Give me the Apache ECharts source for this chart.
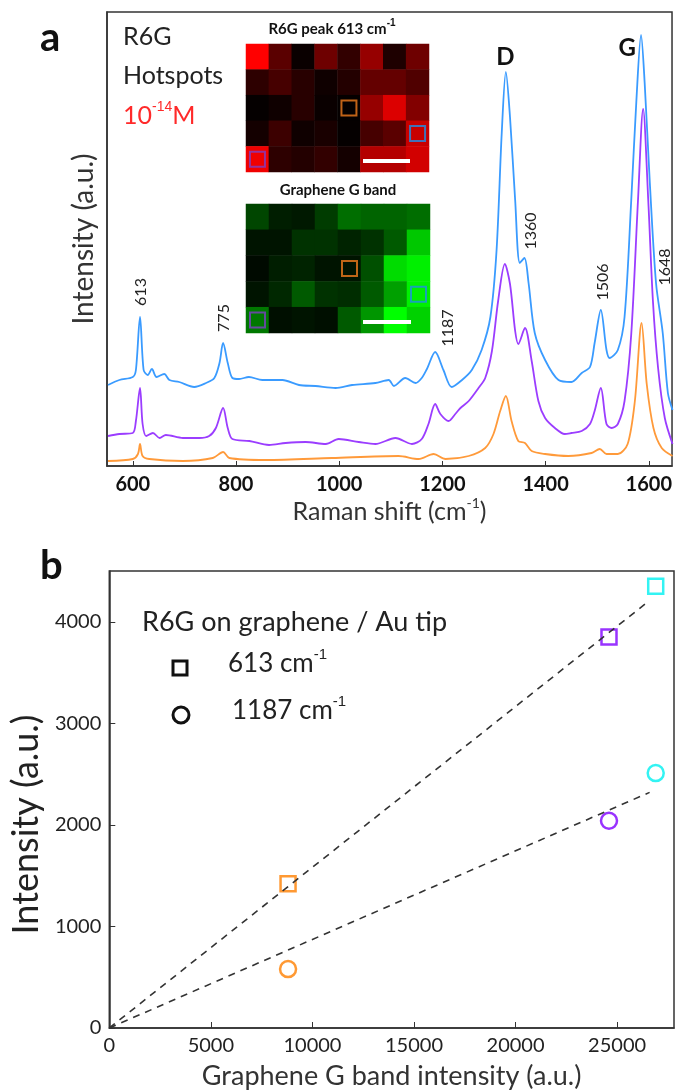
<!DOCTYPE html>
<html lang="en">
  <head>
    <meta charset="UTF-8" />
    <title>R6G TERS hotspots</title>
    <script src="https://cdn.jsdelivr.net/npm/echarts@6.0.0/dist/echarts.min.js"></script>
    <style>
      body {
        margin: 0;
        padding: 0;
        background: #fff;
      }
      #chart {
        width: 675px;
        height: 1092px;
      }
    </style>
  </head>
  <body>
    <div id="chart"></div>

    <script>
      // panel a: spectra [Raman shift, intensity (a.u., offset)]
      var specBlue = [[552,81],[574,86],[600,89],[606,96],[614,149],[621,96],[629,91],[637,97],[646,89],[661,92],[671,86],[690,84],[719,79],[742,83],[758,88],[768,103],[775,123],[784,103],[793,88],[806,87],[825,89],[851,86],[890,86],[922,81],[954,80],[993,78],[1025,81],[1070,83],[1096,86],[1106,80],[1128,88],[1148,83],[1160,88],[1170,97],[1186,114],[1202,96],[1218,79],[1238,86],[1257,96],[1276,116],[1293,149],[1305,216],[1315,333],[1323,394],[1331,349],[1341,266],[1350,203],[1359,208],[1367,183],[1379,133],[1399,106],[1425,86],[1450,84],[1470,93],[1486,99],[1495,123],[1507,156],[1518,116],[1524,108],[1540,116],[1553,149],[1566,266],[1576,366],[1585,431],[1592,383],[1602,283],[1614,183],[1627,133],[1637,73],[1646,56]];
      var specPurple = [[552,30],[574,32],[600,33],[606,45],[614,78],[619,42],[626,30],[639,33],[652,28],[664,31],[697,28],[729,28],[748,30],[761,38],[775,58],[784,38],[793,27],[826,25],[864,21],[896,23],[935,24],[974,22],[999,27],[1038,24],[1070,22],[1109,28],[1141,22],[1160,27],[1173,42],[1186,62],[1196,52],[1212,45],[1225,52],[1235,58],[1251,65],[1270,78],[1283,88],[1296,115],[1308,165],[1321,202],[1331,182],[1341,135],[1347,122],[1360,138],[1373,105],[1386,65],[1399,48],[1418,38],[1437,32],[1450,33],[1470,35],[1486,42],[1495,55],[1507,78],[1518,42],[1528,38],[1540,42],[1553,65],[1566,132],[1579,265],[1589,357],[1599,265],[1608,165],[1618,98],[1631,48],[1646,22]];
      var specOrange = [[552,5],[600,7],[610,12],[614,22],[619,10],[632,7],[697,5],[755,8],[775,14],[787,8],[858,6],[986,8],[1115,10],[1154,7],[1183,12],[1206,7],[1251,10],[1283,18],[1299,32],[1312,55],[1323,70],[1334,45],[1347,25],[1360,23],[1373,15],[1399,12],[1444,10],[1489,13],[1505,17],[1518,12],[1540,12],[1559,22],[1573,65],[1586,143],[1596,82],[1609,38],[1625,18],[1646,10]];
      var ramanTicks = [600, 800, 1000, 1200, 1400, 1600];
      // peak annotations [x, y, text]
      var peakLabels = [[615,174,'613'],[777,148,'775'],[1210,138,'1187'],[1372,235,'1360'],[1511,184,'1506'],[1631,199,'1648']];
      var bandLabels = [[1322,409,'D'],[1558,418,'G']];

      // inset maps, 8 x 5 pixels, rows top to bottom (0-255)
      var r6gMap = [
        [255, 90, 10, 110, 50, 150, 30, 110],
        [45, 70, 40, 15, 35, 100, 100, 80],
        [5, 15, 40, 10, 5, 150, 220, 130],
        [20, 60, 15, 25, 5, 70, 90, 200],
        [240, 45, 35, 50, 20, 180, 180, 210]
      ];
      var gMap = [
        [70, 30, 25, 60, 110, 100, 100, 110],
        [20, 20, 50, 50, 35, 50, 90, 200],
        [10, 30, 35, 20, 20, 80, 220, 240],
        [20, 40, 90, 50, 45, 90, 160, 240],
        [120, 15, 20, 15, 90, 150, 255, 210]
      ];
      var spotPixels = [[4, 2], [7, 3], [0, 4]];
      var spotColors = ['#ef7a1d', '#1f8fe6', '#7d3fc4'];

      // panel b
      var gBand = [8800, 24600, 26900];
      var peak613 = [1420, 3850, 4350];
      var peak1187 = [580, 2040, 2510];
      var pointColors = ['#ff8000', '#8000ff', '#00f0f0'];
      var fitX = [0, 26600];
      var fit613 = [0, 4210];
      var fit1187 = [0, 2320];
      var gTicks = [0, 5000, 10000, 15000, 20000, 25000];
      var iTicks = [0, 1000, 2000, 3000, 4000];

      var FONT = 'Lato, "Open Sans", sans-serif';
      function supStyle(size, lift) {
        return { fontSize: size, verticalAlign: 'top', padding: [0, 0, lift, 0] };
      }
      function plain(v) { return String(v); }

      function toHeat(m) {
        var out = [];
        m.forEach(function (row, r) {
          row.forEach(function (v, c) { out.push([c, r, v]); });
        });
        return out;
      }
      function spots() {
        return spotPixels.map(function (p, i) {
          return { value: p, itemStyle: { borderColor: spotColors[i] } };
        });
      }
      function pts(ys) {
        return gBand.map(function (x, i) {
          return { value: [x, ys[i]], itemStyle: { borderColor: pointColors[i] } };
        });
      }
      function pair(xs, ys) {
        return xs.map(function (x, i) { return [x, ys[i]]; });
      }

      var chart = echarts.init(document.getElementById('chart'));
      var cols = [0, 1, 2, 3, 4, 5, 6, 7];
      var rows = [0, 1, 2, 3, 4];

      var option = {
        animation: false,
        textStyle: { fontFamily: FONT },
        grid: [
          { left: 107, top: 12, width: 566, height: 454, show: true, borderColor: '#333', borderWidth: 1.5 },
          { left: 246, top: 44, width: 183, height: 128, z: 5 },
          { left: 246, top: 204, width: 184, height: 129, z: 5 },
          { left: 108, top: 571, width: 566, height: 457, show: true, borderColor: '#333', borderWidth: 1.5 }
        ],
        xAxis: [
          {
            gridIndex: 0, type: 'value', min: 550, max: 1645,
            splitLine: { show: false },
            axisLine: { lineStyle: { color: '#333', width: 1.5 } },
            axisTick: { inside: true, length: 5, customValues: ramanTicks, lineStyle: { color: '#333' } },
            axisLabel: { customValues: ramanTicks, formatter: plain, color: '#111', fontWeight: 'bold', fontSize: 20, margin: 9 },
            name: 'Raman shift (cm{sup|-1})',
            nameLocation: 'middle', nameGap: 30,
            nameTextStyle: { fontSize: 25, color: '#333', rich: { sup: supStyle(14, 18) } }
          },
          { gridIndex: 1, type: 'category', data: cols, show: false },
          { gridIndex: 2, type: 'category', data: cols, show: false },
          {
            gridIndex: 3, type: 'value', min: 0, max: 27800,
            splitLine: { show: false },
            axisLine: { lineStyle: { color: '#333', width: 1.5 } },
            axisTick: { inside: true, length: 6, customValues: gTicks, lineStyle: { color: '#333' } },
            axisLabel: { customValues: gTicks, formatter: plain, color: '#222', fontSize: 20, margin: 8 },
            name: 'Graphene G band intensity (a.u.)',
            nameLocation: 'middle', nameGap: 35,
            nameTextStyle: { fontSize: 27, color: '#333' }
          }
        ],
        yAxis: [
          {
            gridIndex: 0, type: 'value', min: 0, max: 454,
            splitLine: { show: false },
            axisLine: { show: true, lineStyle: { color: '#333', width: 1.5 } },
            axisTick: { show: false },
            axisLabel: { show: false },
            name: 'Intensity (a.u.)',
            nameLocation: 'middle', nameGap: 9,
            nameTextStyle: { fontSize: 28, color: '#333' }
          },
          { gridIndex: 1, type: 'category', data: rows, inverse: true, show: false },
          { gridIndex: 2, type: 'category', data: rows, inverse: true, show: false },
          {
            gridIndex: 3, type: 'value', min: 0, max: 4500,
            splitLine: { show: false },
            axisLine: { show: true, lineStyle: { color: '#333', width: 1.5 } },
            axisTick: { inside: true, length: 6, customValues: iTicks, lineStyle: { color: '#333' } },
            axisLabel: { customValues: iTicks, formatter: plain, color: '#222', fontSize: 20, margin: 8 },
            name: 'Intensity (a.u.)',
            nameLocation: 'middle', nameGap: 58,
            nameTextStyle: { fontSize: 36, color: '#222', padding: [0, 50, 0, 0] }
          }
        ],
        visualMap: [
          { show: false, seriesIndex: 3, min: 0, max: 255, inRange: { color: ['#000000', '#ff0000'] } },
          { show: false, seriesIndex: 5, min: 0, max: 255, inRange: { color: ['#000000', '#00ff00'] } }
        ],
        series: [
          {
            type: 'line', xAxisIndex: 0, yAxisIndex: 0, data: specBlue,
            showSymbol: false, smooth: 0.3, lineStyle: { color: '#3a9bff', width: 1.8 }, z: 2,
            markPoint: {
              symbol: 'circle', symbolSize: 0,
              label: { show: true, position: 'inside', rotate: 90, fontSize: 16, color: '#222', formatter: '{b}' },
              data: peakLabels.map(function (p) { return { name: p[2], coord: [p[0], p[1]] }; })
                .concat(bandLabels.map(function (p) {
                  return { name: p[2], coord: [p[0], p[1]],
                    label: { rotate: 0, fontSize: 24, fontWeight: 'bold', color: '#111' } };
                }))
            }
          },
          {
            type: 'line', xAxisIndex: 0, yAxisIndex: 0, data: specPurple,
            showSymbol: false, smooth: 0.3, lineStyle: { color: '#9b3dff', width: 1.8 }, z: 2
          },
          {
            type: 'line', xAxisIndex: 0, yAxisIndex: 0, data: specOrange,
            showSymbol: false, smooth: 0.3, lineStyle: { color: '#ff9a3a', width: 1.8 }, z: 2
          },
          { type: 'heatmap', xAxisIndex: 1, yAxisIndex: 1, data: toHeat(r6gMap), z: 5 },
          {
            type: 'scatter', xAxisIndex: 1, yAxisIndex: 1, data: spots(), symbol: 'rect', symbolSize: 15,
            itemStyle: { color: 'rgba(0,0,0,0)', borderWidth: 2 }, z: 6
          },
          { type: 'heatmap', xAxisIndex: 2, yAxisIndex: 2, data: toHeat(gMap), z: 5 },
          {
            type: 'scatter', xAxisIndex: 2, yAxisIndex: 2, data: spots(), symbol: 'rect', symbolSize: 15,
            itemStyle: { color: 'rgba(0,0,0,0)', borderWidth: 2 }, z: 6
          },
          {
            type: 'line', xAxisIndex: 3, yAxisIndex: 3, data: pair(fitX, fit613), showSymbol: false,
            lineStyle: { color: '#333', width: 1.6, type: [7, 6] }
          },
          {
            type: 'line', xAxisIndex: 3, yAxisIndex: 3, data: pair(fitX, fit1187), showSymbol: false,
            lineStyle: { color: '#333', width: 1.6, type: [7, 6] }
          },
          {
            type: 'scatter', xAxisIndex: 3, yAxisIndex: 3, data: pts(peak613), symbol: 'rect', symbolSize: 15,
            itemStyle: { color: 'rgba(0,0,0,0)', borderWidth: 2.5 }
          },
          {
            type: 'scatter', xAxisIndex: 3, yAxisIndex: 3, data: pts(peak1187), symbol: 'circle', symbolSize: 16,
            itemStyle: { color: 'rgba(0,0,0,0)', borderWidth: 2.5 }
          }
        ],
        graphic: [
          { type: 'text', left: 40, top: 18, style: { text: 'a', font: 'bold 40px ' + FONT, fill: '#111' } },
          { type: 'text', left: 40, top: 546, style: { text: 'b', font: 'bold 40px ' + FONT, fill: '#111' } },
          { type: 'text', x: 123, y: 37, style: { text: 'R6G', font: '25px ' + FONT, fill: '#222', verticalAlign: 'middle' } },
          { type: 'text', x: 123, y: 76, style: { text: 'Hotspots', font: '25px ' + FONT, fill: '#222', verticalAlign: 'middle' } },
          {
            type: 'text', x: 123, y: 116,
            style: { text: '10{s|-14}M', font: '25px ' + FONT, fill: '#ff2a2a', verticalAlign: 'middle',
              rich: { s: { fontSize: 14, fill: '#ff2a2a', verticalAlign: 'top', padding: [0, 0, 18, 0] } } }
          },
          {
            type: 'text', x: 332, y: 29,
            style: { text: 'R6G peak 613 cm{s|-1}', font: 'bold 15px ' + FONT, fill: '#111', align: 'center', verticalAlign: 'middle',
              rich: { s: { fontSize: 10, fontWeight: 'bold', verticalAlign: 'top', padding: [0, 0, 12, 0] } } }
          },
          {
            type: 'text', x: 338, y: 190,
            style: { text: 'Graphene G band', font: 'bold 15px ' + FONT, fill: '#111', align: 'center', verticalAlign: 'middle' }
          },
          { type: 'rect', shape: { x: 363, y: 159, width: 47, height: 4 }, style: { fill: '#fff' }, z: 100 },
          { type: 'rect', shape: { x: 363, y: 320, width: 48, height: 4 }, style: { fill: '#fff' }, z: 100 },
          { type: 'text', x: 142, y: 622, style: { text: 'R6G on graphene / Au tip', font: '27px ' + FONT, fill: '#222', verticalAlign: 'middle' } },
          { type: 'rect', shape: { x: 173, y: 661, width: 14, height: 14 }, style: { fill: 'none', stroke: '#111', lineWidth: 3 } },
          {
            type: 'text', x: 228, y: 664,
            style: { text: '613 cm{s|-1}', font: '26px ' + FONT, fill: '#222', verticalAlign: 'middle',
              rich: { s: { fontSize: 15, verticalAlign: 'top', padding: [0, 0, 18, 0] } } }
          },
          { type: 'circle', shape: { cx: 181, cy: 715, r: 8 }, style: { fill: 'none', stroke: '#111', lineWidth: 3 } },
          {
            type: 'text', x: 232, y: 711,
            style: { text: '1187 cm{s|-1}', font: '26px ' + FONT, fill: '#222', verticalAlign: 'middle',
              rich: { s: { fontSize: 15, verticalAlign: 'top', padding: [0, 0, 18, 0] } } }
          }
        ]
      };
      chart.setOption(option);
    </script>
  </body>
</html>
